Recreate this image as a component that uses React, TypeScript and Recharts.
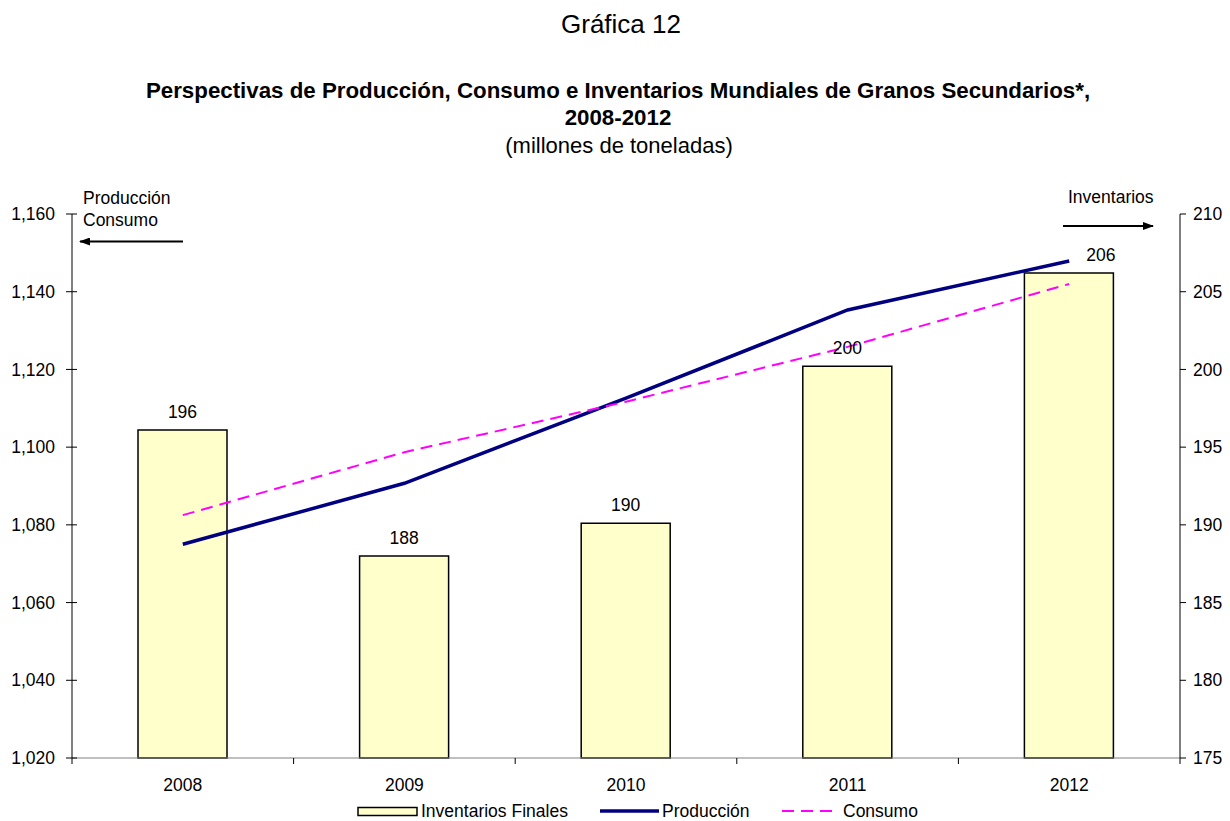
import { ComposedChart, Bar, Line, XAxis, YAxis, LabelList } from 'recharts'

const years = ['2008', '2009', '2010', '2011', '2012']
const inventarios = [196.1, 188.0, 190.1, 200.2, 206.2]
const produccion = [1075.0, 1090.7, 1112.6, 1135.3, 1147.9]
const consumo = [1082.5, 1098.7, 1111.7, 1125.8, 1142.0]
const leftTicks = [1020, 1040, 1060, 1080, 1100, 1120, 1140, 1160]
const rightTicks = [175, 180, 185, 190, 195, 200, 205, 210]

const data = years.map((y, i) => ({
  year: y,
  inventarios: inventarios[i],
  produccion: produccion[i],
  consumo: consumo[i],
}))

const W = 1230
const H = 821
const LEFT_W = 72
const RIGHT_W = 50
const TOP = 214
const BOTTOM = 63
const halfBand = (W - LEFT_W - RIGHT_W) / years.length / 2
const FONT = 'Arial, "Liberation Sans", sans-serif'
const FS = 17.5

const fmt = (v: number) => v.toLocaleString('en-US')

const LeftTick = (p: any) => {
  const { x, y, payload } = p
  return (
    <g>
      <line x1={x + 11} x2={x + 22} y1={y} y2={y} stroke="#000" />
      <text x={x} y={y} dy="0.35em" textAnchor="end" fontSize={FS} fontFamily={FONT} fill="#000">
        {fmt(payload.value)}
      </text>
    </g>
  )
}

const BottomTick = (p: any) => {
  const { x, y, payload, index } = p
  const axisY = y - 21
  return (
    <g>
      <line x1={x - halfBand} x2={x - halfBand} y1={axisY} y2={axisY + 6} stroke="#000" />
      {index === years.length - 1 && (
        <line x1={x + halfBand} x2={x + halfBand} y1={axisY} y2={axisY + 6} stroke="#000" />
      )}
      <text x={x} y={y} dy="0.71em" textAnchor="middle" fontSize={FS} fontFamily={FONT} fill="#000">
        {payload.value}
      </text>
    </g>
  )
}

// labels sit above the bars; the last one is nudged right, clear of the line
const BarLabel = (p: any) => {
  const { x, y, width, value, index } = p
  const shift = index === years.length - 1 ? 32 : 0
  return (
    <text x={x + width / 2 + shift} y={y - 18} dy="0.35em" textAnchor="middle" fontSize={FS} fontFamily={FONT} fill="#000">
      {Math.round(value)}
    </text>
  )
}

export default function App() {
  return (
    <div style={{ position: 'absolute', left: 0, top: 0, width: W, height: H, background: '#fff' }}>
      <ComposedChart width={W} height={H} data={data} margin={{ top: TOP, right: 0, bottom: 0, left: 0 }}>
        <XAxis
          dataKey="year"
          height={BOTTOM}
          stroke="#808080"
          tickLine={false}
          tickSize={0}
          tickMargin={21}
          tick={<BottomTick />}
          interval={0}
        />
        <YAxis
          yAxisId="left"
          domain={[1020, 1160]}
          ticks={leftTicks}
          width={LEFT_W}
          stroke="#000"
          tickLine={false}
          tickSize={5}
          tickMargin={12}
          tick={<LeftTick />}
          interval={0}
        />
        <YAxis
          yAxisId="right"
          orientation="right"
          domain={[175, 210]}
          ticks={rightTicks}
          width={RIGHT_W}
          stroke="#000"
          tickSize={6}
          tickMargin={7}
          tick={{ fill: '#000', fontSize: FS, fontFamily: FONT }}
          interval={0}
        />
        <Bar yAxisId="right" dataKey="inventarios" fill="#FFFFCC" stroke="#000" strokeWidth={1.5} barSize={89} isAnimationActive={false}>
          <LabelList dataKey="inventarios" content={<BarLabel />} />
        </Bar>
        <Line yAxisId="left" type="linear" dataKey="produccion" stroke="#000080" strokeWidth={3.5} dot={false} isAnimationActive={false} />
        <Line yAxisId="left" type="linear" dataKey="consumo" stroke="#FF00FF" strokeWidth={2} strokeDasharray="12 7" dot={false} isAnimationActive={false} />
      </ComposedChart>
      <svg width={W} height={H} style={{ position: 'absolute', left: 0, top: 0, pointerEvents: 'none' }} fontFamily={FONT}>
        <defs>
          <marker id="ah" markerWidth="11" markerHeight="8" refX="10" refY="4" orient="auto" markerUnits="userSpaceOnUse">
            <path d="M0,0 L11,4 L0,8 z" fill="#000" />
          </marker>
        </defs>
        <text x={621} y={33} textAnchor="middle" fontSize={26} fill="#000">Gráfica 12</text>
        <text x={618} y={98} textAnchor="middle" fontSize={22.3} fontWeight="bold" fill="#000">
          Perspectivas de Producción, Consumo e Inventarios Mundiales de Granos Secundarios*,
        </text>
        <text x={618} y={125} textAnchor="middle" fontSize={22.3} fontWeight="bold" fill="#000">2008-2012</text>
        <text x={619} y={153} textAnchor="middle" fontSize={22} fill="#000">(millones de toneladas)</text>

        <text x={83} y={204} fontSize={FS} fill="#000">Producción</text>
        <text x={83} y={226} fontSize={FS} fill="#000">Consumo</text>
        <line x1={183} y1={241.5} x2={80} y2={241.5} stroke="#000" strokeWidth={2} markerEnd="url(#ah)" />
        <text x={1068} y={203} fontSize={FS} fill="#000">Inventarios</text>
        <line x1={1063} y1={226} x2={1153} y2={226} stroke="#000" strokeWidth={2} markerEnd="url(#ah)" />

        <rect x={358} y={807.5} width={59} height={8} fill="#FFFFCC" stroke="#000" strokeWidth={1.5} />
        <text x={421} y={817} fontSize={FS} fill="#000">Inventarios Finales</text>
        <line x1={600} y1={811} x2={659} y2={811} stroke="#000080" strokeWidth={3.5} />
        <text x={662} y={817} fontSize={FS} fill="#000">Producción</text>
        <line x1={782} y1={811} x2={834} y2={811} stroke="#FF00FF" strokeWidth={2} strokeDasharray="12 7" />
        <text x={843} y={817} fontSize={FS} fill="#000">Consumo</text>
      </svg>
    </div>
  )
}
